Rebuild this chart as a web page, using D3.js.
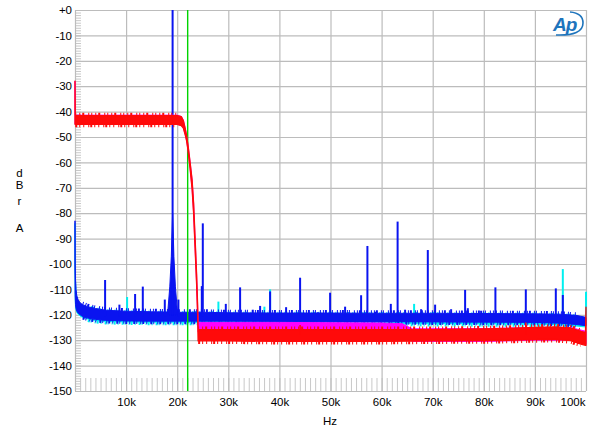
<!DOCTYPE html>
<html><head><meta charset="utf-8">
<script src="https://cdn.jsdelivr.net/npm/d3@7"></script>
<style>
html,body{margin:0;padding:0;background:#fff;}
svg{display:block;font-family:"Liberation Sans",Arial,Helvetica,sans-serif;}
</style></head><body>
<svg id="chart" width="600" height="436"></svg>
<script>
// ---------- data ----------
const xTickValues = [10000,20000,30000,40000,50000,60000,70000,80000,90000,100000];
const xTickLabels = ["10k","20k","30k","40k","50k","60k","70k","80k","90k","100k"];
const yTickValues = [0,-10,-20,-30,-40,-50,-60,-70,-80,-90,-100,-110,-120,-130,-140,-150];
const yTickLabels = ["+0","-10","-20","-30","-40","-50","-60","-70","-80","-90","-100","-110","-120","-130","-140","-150"];

// noise floor envelopes (Hz, dB top / bottom) for blue & cyan
const floorFreq = [0, 30, 100, 200, 350, 600, 1000, 1500, 2500, 4000, 6000, 10000, 15000, 20500, 25000, 30000, 40000, 50000, 60000, 70000, 80000, 90000, 95000, 98000, 100000];
const blueTop   = [-83, -100, -106, -110, -112.5, -114, -115.3, -116, -116.8, -117.5, -118.2, -118.6, -118.8, -119, -119, -119.2, -119.3, -119.3, -119.4, -119.4, -119.5, -119.6, -119.8, -120.2, -121];
const blueBot   = [-104, -112, -116, -117.5, -118.5, -119.3, -120, -120.7, -121.3, -121.8, -122.2, -122.4, -122.5, -122.5, -122.5, -122.5, -122.6, -122.6, -122.7, -122.8, -122.9, -123, -123.3, -123.8, -124.3];
const cyanTop   = [-84, -101, -106.5, -110.5, -113, -114.5, -115.8, -116.6, -117.4, -118.2, -118.9, -119.3, -119.5, -119.7, -119.7, -119.9, -120, -120, -120.1, -120.1, -120.2, -120.3, -120.5, -120.9, -121.6];
const cyanBot   = [-104.5, -112.5, -116.5, -118, -119, -119.8, -120.5, -121.1, -121.7, -122.2, -122.6, -122.8, -122.9, -122.9, -123, -123, -123.1, -123.2, -123.3, -123.4, -123.5, -123.6, -123.9, -124.4, -124.8];

// blue discrete tones (Hz, dB)
const blueMainFreq = 19100, blueMainDb = 0;
const blueSkirtFreq = [18150, 18550, 18850, 18960, 19100, 19240, 19350, 19650, 20050];
const blueSkirtDb   = [-119, -109, -97, -89, -80, -89, -97, -109, -119];
const blueSpikeFreq = [5890, 8689, 11762, 13268, 17574, 20235, 24815, 25010, 29512, 32310, 34795, 36224, 38181, 41312, 44052, 47516, 49923, 52859, 55990, 57223, 58730, 61802, 63133, 64601, 67732, 69043, 70472, 73603, 76343, 76871, 79474, 82272, 88222, 94093, 95463];
const blueSpikeDb   = [-106.3, -116, -111.8, -108.9, -114, -114, -108.7, -84, -115.7, -109.2, -118, -116.5, -110.8, -117, -105.4, -119, -111.3, -116.8, -112.3, -92.9, -118.8, -115.7, -83.3, -118, -117.8, -94.5, -116, -117.8, -110.2, -117.4, -118.4, -109.2, -110, -109.6, -112.2];
const cyanSpikeFreq = [10196, 28064, 37066, 38181, 66362, 95463, 100000];
const cyanSpikeDb   = [-113, -114.8, -116.8, -110, -115.7, -102, -110.9];

// red & magenta (Hz, dB top / bottom)
const redFreq = [0, 50, 5000, 10000, 15000, 20000, 20800, 21200, 21550, 21840, 22134, 22525, 22917, 23210, 23504, 23797, 23993, 24090, 24100, 30000, 40000, 50000, 60000, 70000, 80000, 86000, 90000, 94000, 97000, 99000, 99900, 100000];
const redTop  = [-28, -41.6, -41.6, -41.6, -41.6, -41.6, -42, -43.5, -46.5, -49.5, -53.5, -60, -67, -76, -90, -104, -116, -124, -125.8, -125.8, -125.8, -125.8, -125.8, -125.8, -125.6, -125.3, -125, -124.8, -125.2, -126.5, -127, -117];
const redBot  = [-45, -45, -45, -45, -45, -45, -45.5, -46.5, -49, -51.5, -55.5, -62.5, -70.5, -80, -94, -108, -120, -130.3, -130.3, -130.3, -130.5, -130.5, -130.5, -130.3, -130.2, -130, -129.8, -129.7, -130.2, -131.5, -132, -132];
const magFreq = [0, 50, 20000, 20800, 21200, 21550, 21840, 22134, 22525, 22917, 23210, 23504, 23797, 23993, 24090, 24100, 40000, 60000, 64000, 66000, 80000, 90000, 97000, 100000];
const magTop  = [-28, -41.4, -41.4, -41.9, -43.4, -46.4, -49.4, -53.4, -59.9, -66.9, -75.9, -89.9, -103.9, -115.9, -122, -123, -123, -123.2, -123.5, -125.5, -125.4, -125, -125, -126.5];
const magBot  = [-45, -45, -45, -45.4, -46.4, -48.9, -51.4, -55.4, -62.4, -70.4, -79.9, -93.9, -107.9, -119.9, -126.8, -126.8, -126.8, -127, -127.2, -130.5, -130.5, -130, -130, -131.5];
const redSpikeFreq = [44052, 88222];
const redSpikeDb   = [-124, -123];

const greenFreq = 22050;

// ---------- chart ----------
const svg = d3.select("#chart");
const x = d3.scaleLinear().domain([0, 100000]).range([75, 586]);
const y = d3.scaleLinear().domain([-150, 0]).range([391, 10]);
const pw = 586 - 75, ph = 391 - 10;

// minor ticks
const minorY = d3.range(-150, 1, 1);
const minorX = d3.range(0, 100001, 1000);
svg.append("g").attr("transform", "translate(75,0)")
  .call(d3.axisLeft(y).tickValues(minorY).tickSize(-6).tickFormat(""))
  .call(g => { g.select(".domain").remove(); g.selectAll("line").attr("stroke", "#c8c8c8").attr("stroke-width", 1); });
svg.append("g").attr("transform", "translate(0,391)")
  .call(d3.axisBottom(x).tickValues(minorX).tickSize(-13).tickFormat(""))
  .call(g => { g.select(".domain").remove(); g.selectAll("line").attr("stroke", "#c8c8c8").attr("stroke-width", 1); });

// grid + labels
svg.append("g").attr("transform", "translate(75,0)")
  .call(d3.axisLeft(y).tickValues(yTickValues).tickSize(-pw).tickPadding(3)
        .tickFormat((d, i) => yTickLabels[i]))
  .call(g => {
    g.select(".domain").remove();
    g.selectAll("line").attr("stroke", "#bcbcbc").attr("stroke-width", 1.2);
    g.selectAll("text").attr("fill", "#000").attr("font-size", 11.5)
      .attr("font-family", '"Liberation Sans",Arial,sans-serif');
  });
svg.append("g").attr("transform", "translate(0,391)")
  .call(d3.axisBottom(x).tickValues([0].concat(xTickValues)).tickSize(-ph).tickPadding(7)
        .tickFormat((d, i) => i === 0 ? "" : xTickLabels[i - 1]))
  .call(g => {
    g.select(".domain").remove();
    g.selectAll("line").attr("stroke", "#bcbcbc").attr("stroke-width", 1.2);
    g.selectAll("text").attr("fill", "#000").attr("font-size", 11.5)
      .attr("font-family", '"Liberation Sans",Arial,sans-serif');
    g.selectAll(".tick").filter(d => d === 100000).select("text")
      .attr("text-anchor", "end").attr("x", -1);
  });

// helpers
function band(freqs, tops, bots, color, sw, fringe) {
  const data = freqs.map((f, i) => ({f, t: tops[i], b: bots[i]}));
  const area = d3.area().x(d => x(d.f)).y0(d => y(d.b)).y1(d => y(d.t));
  svg.append("path").datum(data).attr("d", area)
    .attr("fill", color).attr("stroke", color).attr("stroke-width", sw).attr("stroke-linejoin", "round");
  if (fringe) {
    // jagged noise fringe along the band edges (style only)
    const topLine = d3.line().x(d => x(d.f)).y(d => y(d.t) - 1.5);
    const botLine = d3.line().x(d => x(d.f)).y(d => y(d.b) + 1.5);
    [[topLine, "1 2 1 1 2 3 1 1 1 4"], [botLine, "2 1 1 3 1 1 2 2 1 3"]].forEach(([ln, dash]) => {
      svg.append("path").datum(data.filter(d => d.f >= fringe[0] && d.f <= fringe[1])).attr("d", ln)
        .attr("fill", "none").attr("stroke", color).attr("stroke-width", 3)
        .attr("stroke-dasharray", dash);
    });
  }
}
function spikes(freqs, dbs, base, color, sw) {
  svg.append("g").selectAll("line").data(freqs.map((f, i) => ({f, d: dbs[i]}))).join("line")
    .attr("x1", d => x(d.f)).attr("x2", d => x(d.f))
    .attr("y1", y(base)).attr("y2", d => y(d.d))
    .attr("stroke", color).attr("stroke-width", sw);
}
const cyan = "#00f0f0", blue = "#0a14f0", red = "#ff0a0a", magenta = "#ff00ff", green = "#00d400";

// cyan
band(floorFreq, cyanTop, cyanBot, cyan, 1, [2500, 99000]);
spikes(cyanSpikeFreq, cyanSpikeDb, -121, cyan, 2);
// blue
band(floorFreq, blueTop, blueBot, blue, 1, [1500, 99500]);
spikes(blueSpikeFreq, blueSpikeDb, -120.5, blue, 2);
svg.append("path")
  .datum(blueSkirtFreq.map((f, i) => ({f, d: blueSkirtDb[i]})))
  .attr("d", d3.area().x(d => x(d.f)).y0(y(-120)).y1(d => y(d.d)))
  .attr("fill", blue).attr("stroke", blue).attr("stroke-width", 1);
spikes([blueMainFreq], [blueMainDb], -120, blue, 2);
// green marker
svg.append("line").attr("x1", x(greenFreq)).attr("x2", x(greenFreq))
  .attr("y1", y(0)).attr("y2", y(-150)).attr("stroke", green).attr("stroke-width", 1.4);
// magenta and red
band(magFreq, magTop, magBot, magenta, 1, null);
band(redFreq, redTop, redBot, red, 1.3, null);
// red fringes on flat parts only
(function () {
  const segs = [[50, 20000], [24100, 99000]];
  const data = redFreq.map((f, i) => ({f, t: redTop[i], b: redBot[i]}));
  segs.forEach(([a, b]) => {
    const sub = data.filter(d => d.f >= a && d.f <= b);
    svg.append("path").datum(sub).attr("d", d3.line().x(d => x(d.f)).y(d => y(d.t) - 1.5))
      .attr("fill", "none").attr("stroke", red).attr("stroke-width", 3).attr("stroke-dasharray", "1 3 1 2 2 4 1 2");
    svg.append("path").datum(sub).attr("d", d3.line().x(d => x(d.f)).y(d => y(d.b) + 1.5))
      .attr("fill", "none").attr("stroke", red).attr("stroke-width", 3).attr("stroke-dasharray", "2 2 1 3 1 4 1 1");
  });
})();
spikes(redSpikeFreq, redSpikeDb, -128, red, 1.5);

// axis titles
const lab = svg.append("g").attr("font-size", 11.5).attr("fill", "#000").attr("text-anchor", "middle");
[["d", 177], ["B", 189], ["r", 205], ["A", 232]].forEach(([t, yy]) =>
  lab.append("text").attr("x", 19.5).attr("y", yy).text(t));
lab.append("text").attr("x", 330).attr("y", 425).text("Hz");

// AP logo
const logo = svg.append("g");
logo.append("text").attr("x", 553).attr("y", 31).attr("font-size", 19).attr("font-style", "italic")
  .attr("font-weight", "bold").attr("fill", "#1e74bc").attr("letter-spacing", -1).text("Ap");
logo.append("path").attr("d", "M556,35 Q583,36 583,23 Q583,13 570,12")
  .attr("fill", "none").attr("stroke", "#1e74bc").attr("stroke-width", 1.6);
</script>
</body></html>
